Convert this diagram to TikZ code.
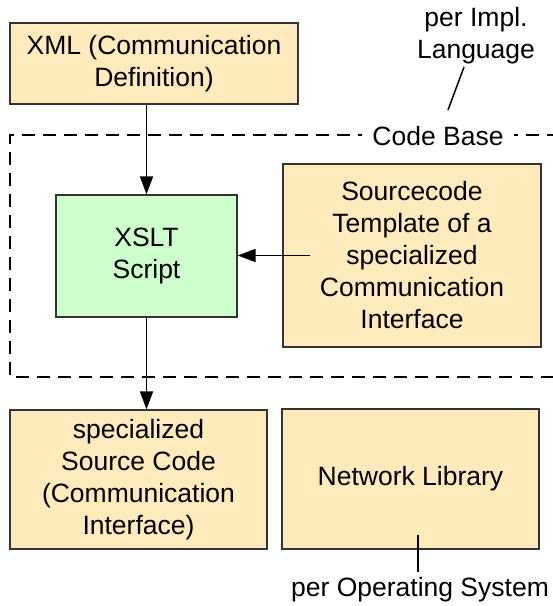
\documentclass[tikz,border=0pt]{standalone}
\usepackage{fontspec}
\setmainfont{Liberation Sans}
\usetikzlibrary{arrows.meta,calc}
\definecolor{boxorange}{HTML}{FFEABB}
\definecolor{boxgreen}{HTML}{CCFFCC}
\definecolor{boxline}{HTML}{333333}
\tikzset{
  box/.style={draw=boxline, line width=1.3pt, fill=boxorange, align=center,
    inner sep=0pt, font=\fontsize{26.5}{32}\selectfont},
  greenbox/.style={box, fill=boxgreen},
  label/.style={align=center, inner sep=0pt, font=\fontsize{26.5}{32}\selectfont},
  conn/.style={line width=1.8pt, -{Triangle[length=18pt,width=13pt]}},
  frame/.style={line width=1.6pt, dash pattern=on 13pt off 8pt}
}
\begin{document}
\begin{tikzpicture}[x=1pt,y=-1pt]
\useasboundingbox (0,0) rectangle (553,606);
% dashed code base frame
\coordinate (ftr) at (560,135);
\coordinate (ftl) at (10,135);
\coordinate (fbl) at (10,377);
\coordinate (fbr) at (560,377);
\begin{scope}
\clip (0,0) rectangle (553,606);
\draw[frame] (ftr) -- (ftl) -- (fbl) -- (fbr);
\end{scope}
\node[label, fill=white, inner xsep=10pt, inner ysep=4pt] (codebase) at (438,136) {Code Base};

\node[box, minimum width=288pt, minimum height=81pt] (xml) at (154,63.5) {XML (Communication\\Definition)};
\node[greenbox, minimum width=181pt, minimum height=122pt] (xslt) at (146.5,256) {XSLT\\Script};
\node[box, minimum width=258pt, minimum height=183pt] (src) at (412,255.5) {Sourcecode\\Template of a\\specialized\\Communication\\Interface};
\node[box, minimum width=257pt, minimum height=139pt] (spec) at (138.5,479.5) {specialized\\Source Code\\(Communication\\Interface)};
\node[box, minimum width=257pt, minimum height=140pt] (net) at (410.5,479) {Network Library};

\node[label] (impl) at (476,36) {per Impl.\\Language};
\node[label] (os) at (420,590) {per Operating System};

\coordinate (slashtop) at (464,67);
\coordinate (slashbot) at (448,110);
\draw[line width=1.5pt] (slashtop) -- (slashbot);

\coordinate (srcin) at ($(src.west)+(28,0)$);
\coordinate (netin) at (418,535);
\coordinate (osline) at (418,572);

\draw[conn] (xslt.north |- xml.south) -- (xslt.north);
\draw[conn] (srcin) -- (srcin -| xslt.east);
\draw[conn] (xslt.south) -- (spec.north -| xslt.south);
\draw[line width=1.5pt] (netin) -- (osline);
\end{tikzpicture}
\end{document}
